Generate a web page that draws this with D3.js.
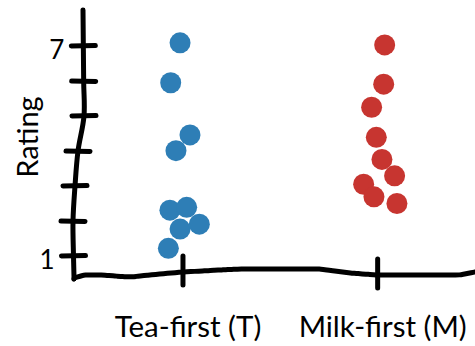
<!DOCTYPE html>
<html>
<head>
<meta charset="utf-8">
<script src="https://cdn.jsdelivr.net/npm/d3@7"></script>
<style>
  html, body { margin: 0; padding: 0; background: #fff; }
  svg { display: block; }
  text { font-family: Lato, "Open Sans", sans-serif; fill: #000; }
</style>
</head>
<body>
<svg id="chart" width="475" height="346"></svg>
<script>
// ---- data ----
const categories = ["Tea-first (T)", "Milk-first (M)"];
const teaRatings  = [7.09, 5.95, 4.46, 4.01, 2.31, 2.39, 1.77, 1.91, 1.22];
const teaJitter   = [-0.015, -0.063, 0.036, -0.036, -0.067, 0.019, -0.015, 0.084, -0.075];
const milkRatings = [7.03, 5.91, 5.25, 4.39, 3.76, 3.29, 3.05, 2.69, 2.50];
const milkJitter  = [0.036, 0.031, -0.031, -0.007, 0.022, 0.087, -0.072, -0.019, 0.099];
const yTicks      = [1, 2, 3, 4, 5, 6, 7];
const yTickLabels = ["1", "", "", "", "", "", "7"];
const yLabel = "Rating";

// ---- layout ----
const svg = d3.select("#chart");
const x = d3.scaleLinear().domain([-0.57, 1.5]).range([72, 475]);
const y = d3.scaleLinear().domain([1, 7]).range([256, 46]);
const colors = ["#2e7eb6", "#c73530"];

// hand-drawn wobble of the y axis (x offset in px along rating)
const yAxisWobble = d3.scaleLinear()
  .domain([8.03, 5, 4, 3, 2, 1, 0.4])
  .range([11, 12, 6, 3, 1, 1.5, 2]);
const axisX = r => x(-0.57) + yAxisWobble(r);

// wobble of x axis (y offset in px along category position)
const xAxisWobble = d3.scaleLinear()
  .domain([-0.56, -0.51, -0.426, -0.272, -0.118, 0, 0.19, 0.292, 0.703, 0.856, 1, 1.42, 1.5])
  .range([3, 0, 0, 2, -1, -3, -5, -6, -6, -2, 0, 0, -3]);
const baseY = y(0.457);

const stroke = "#000";
const sw = 5;

// y axis line
const yPts = [8.03, 6, 5, 4, 3, 2, 1, 0.4].map(r => [axisX(r), y(r)]);
yPts.push([axisX(0.4), y(0.4) + 2]);
svg.append("path")
  .attr("d", d3.line().curve(d3.curveCatmullRom)(yPts))
  .attr("fill", "none").attr("stroke", stroke).attr("stroke-width", sw)
  .attr("stroke-linecap", "round").attr("stroke-linejoin", "round");

// x axis line
const xPts = d3.range(-0.56, 1.52, 0.02).map(v => [x(v), baseY + xAxisWobble(Math.min(v, 1.5))]);
xPts.unshift([axisX(0.4), y(0.4) + 2]);
svg.append("path")
  .attr("d", d3.line().curve(d3.curveBasis)(xPts))
  .attr("fill", "none").attr("stroke", stroke).attr("stroke-width", sw)
  .attr("stroke-linecap", "round").attr("stroke-linejoin", "round");

// y ticks
yTicks.forEach((t, i) => {
  const cx = axisX(t), cy = y(t);
  svg.append("line")
    .attr("x1", cx - 12).attr("x2", cx + 12)
    .attr("y1", cy).attr("y2", cy + (i % 2 ? 0.5 : -0.5))
    .attr("stroke", stroke).attr("stroke-width", sw).attr("stroke-linecap", "round");
  if (yTickLabels[i]) {
    svg.append("text")
      .attr("x", cx - 19).attr("y", cy + 3)
      .attr("text-anchor", "end").attr("dominant-baseline", "central")
      .attr("font-size", 26)
      .text(yTickLabels[i]);
  }
});

// x ticks and labels
categories.forEach((c, i) => {
  const cx = x(i);
  const cy = baseY + xAxisWobble(i);
  svg.append("line")
    .attr("x1", cx).attr("x2", cx)
    .attr("y1", cy - 16).attr("y2", cy + 13)
    .attr("stroke", stroke).attr("stroke-width", sw).attr("stroke-linecap", "round");
  svg.append("text")
    .attr("x", cx + 5).attr("y", 337)
    .attr("text-anchor", "middle")
    .attr("font-size", 29.5)
    .text(c);
});

// y axis label
svg.append("text")
  .attr("transform", `translate(38,137) rotate(-90)`)
  .attr("text-anchor", "middle")
  .attr("font-size", 29)
  .text(yLabel);

// points
const series = [
  { r: teaRatings, j: teaJitter, k: 0 },
  { r: milkRatings, j: milkJitter, k: 1 }
];
series.forEach(s => {
  svg.append("g").selectAll("circle")
    .data(s.r.map((v, i) => ({ v, j: s.j[i] })))
    .join("circle")
    .attr("cx", d => x(s.k + d.j))
    .attr("cy", d => y(d.v))
    .attr("r", 10.5)
    .attr("fill", colors[s.k]);
});
</script>
</body>
</html>
